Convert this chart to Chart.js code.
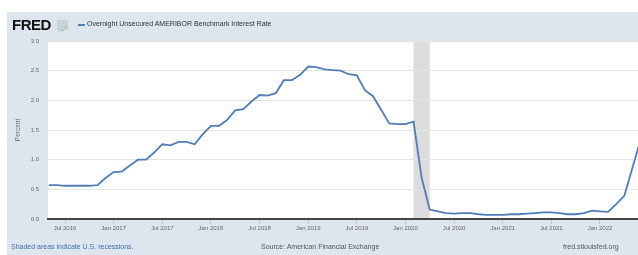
<!DOCTYPE html>
<html>
<head>
<meta charset="utf-8">
<script src="https://cdn.jsdelivr.net/npm/chart.js@4"></script>
<style>
  html, body { margin: 0; padding: 0; background: #fff; }
  body { width: 638px; height: 255px; position: relative; overflow: hidden; font-family: Arial, "Liberation Sans", sans-serif; }
  .panel { position: absolute; left: 7px; top: 12px; width: 631px; height: 243px; background: #dde6ee; }
  #wrap { position: absolute; left: 0; top: 0; width: 638px; height: 255px; }
  .logo { position: absolute; left: 12px; top: 16px; font-size: 15px; font-weight: bold; color: #111; letter-spacing: -0.5px; }
  .icon { position: absolute; left: 57px; top: 20px; width: 11px; height: 10px; background: #c8d2da; }
  .leg { position: absolute; left: 78px; top: 24px; width: 7px; height: 1.5px; background: #4f7db8; }
  .title { position: absolute; left: 87px; top: 20px; font-size: 7px; color: #333; }
  .foot { position: absolute; top: 243px; font-size: 7px; color: #555; }
</style>
</head>
<body>
<div class="panel"></div>
<div id="wrap"><canvas id="rateChart" width="638" height="255"></canvas></div>
<div class="logo">FRED</div>
<div class="icon"><svg width="11" height="10"><polyline points="1,8 4,6 6,7 10,2" fill="none" stroke="#9fc39a" stroke-width="1"/></svg></div>
<div class="leg"></div>
<div class="title">Overnight Unsecured AMERIBOR Benchmark Interest Rate</div>
<div class="foot" style="left:11px;color:#3f6fae">Shaded areas indicate U.S. recessions.</div>
<div class="foot" style="left:261px">Source: American Financial Exchange</div>
<div class="foot" style="left:563px">fred.stlouisfed.org</div>
<script>
// ── DATA ──
const months = [
  '2016-05', '2016-06', '2016-07', '2016-08', '2016-09', '2016-10', '2016-11', '2016-12',
  '2017-01', '2017-02', '2017-03', '2017-04', '2017-05', '2017-06', '2017-07', '2017-08', '2017-09', '2017-10', '2017-11', '2017-12',
  '2018-01', '2018-02', '2018-03', '2018-04', '2018-05', '2018-06', '2018-07', '2018-08', '2018-09', '2018-10', '2018-11', '2018-12',
  '2019-01', '2019-02', '2019-03', '2019-04', '2019-05', '2019-06', '2019-07', '2019-08', '2019-09', '2019-10', '2019-11', '2019-12',
  '2020-01', '2020-02', '2020-03', '2020-04', '2020-05', '2020-06', '2020-07', '2020-08', '2020-09', '2020-10', '2020-11', '2020-12',
  '2021-01', '2021-02', '2021-03', '2021-04', '2021-05', '2021-06', '2021-07', '2021-08', '2021-09', '2021-10', '2021-11', '2021-12',
  '2022-01', '2022-02', '2022-03', '2022-04', '2022-05', '2022-06',
];
const rates = [
  0.57, 0.57, 0.56, 0.56, 0.56, 0.56, 0.57, 0.69,
  0.79, 0.80, 0.90, 1.00, 1.00, 1.12, 1.26, 1.24, 1.30, 1.30, 1.26, 1.43,
  1.57, 1.57, 1.67, 1.83, 1.85, 1.98, 2.09, 2.08, 2.12, 2.34, 2.34, 2.43,
  2.57, 2.56, 2.52, 2.51, 2.50, 2.44, 2.42, 2.17, 2.07, 1.84, 1.61, 1.60,
  1.60, 1.64, 0.69, 0.16, 0.13, 0.10, 0.09, 0.10, 0.10, 0.08, 0.07, 0.07,
  0.07, 0.08, 0.08, 0.09, 0.10, 0.11, 0.11, 0.10, 0.08, 0.08, 0.10, 0.14,
  0.13, 0.12, 0.25, 0.39, 0.86, 1.33,
];
const tickMonths = ['2016-07', '2017-01', '2017-07', '2018-01', '2018-07', '2019-01', '2019-07', '2020-01', '2020-07', '2021-01', '2021-07', '2022-01'];
const tickLabels = ['Jul 2016', 'Jan 2017', 'Jul 2017', 'Jan 2018', 'Jul 2018', 'Jan 2019', 'Jul 2019', 'Jan 2020', 'Jul 2020', 'Jan 2021', 'Jul 2021', 'Jan 2022'];
const recession = ['2020-02', '2020-04'];

// months since Jan 2016
const idx = s => (Number(s.slice(0, 4)) - 2016) * 12 + Number(s.slice(5, 7)) - 1;

window.addEventListener('DOMContentLoaded', () => {
  const points = months.map((m, i) => ({ x: idx(m), y: rates[i] }));
  const tickPos = tickMonths.map(idx);

  // white plot area + recession band
  const plotBg = {
    id: 'plotBg',
    beforeDraw(chart) {
      const { ctx, chartArea: a, scales: { x } } = chart;
      ctx.save();
      ctx.fillStyle = '#fff';
      ctx.fillRect(a.left, a.top, a.right - a.left, a.bottom - a.top);
      const x0 = x.getPixelForValue(idx(recession[0]));
      const x1 = x.getPixelForValue(idx(recession[1]));
      ctx.fillStyle = '#dcdcdc';
      ctx.fillRect(x0, a.top, x1 - x0, a.bottom - a.top);
      ctx.restore();
    },
  };

  new Chart(document.getElementById('rateChart').getContext('2d'), {
    type: 'line',
    data: {
      datasets: [{
        label: 'AMERIBOR',
        data: points,
        borderColor: '#4f7db8',
        borderWidth: 1.8,
        pointRadius: 0,
        tension: 0,
        fill: false,
      }],
    },
    options: {
      responsive: false,
      animation: false,
      layout: { padding: { top: 41, right: 0, left: 0, bottom: 0 } },
      plugins: { legend: { display: false }, tooltip: { enabled: false } },
      scales: {
        x: {
          type: 'linear',
          min: 3.9,
          max: 76.69,
          afterFit: s => { s.height = 36; },
          afterBuildTicks: s => { s.ticks = tickPos.map(v => ({ value: v })); },
          ticks: {
            autoSkip: false,
            maxRotation: 0,
            padding: 1,
            color: '#666',
            font: { size: 6, family: 'Arial' },
            callback: v => tickLabels[tickPos.indexOf(v)],
          },
          grid: { drawOnChartArea: false, drawTicks: true, tickLength: 5, color: '#c8c8c8' },
          border: { display: true, color: '#444', width: 2 },
        },
        y: {
          min: 0,
          max: 3,
          afterFit: s => { s.width = 48; },
          ticks: {
            stepSize: 0.5,
            padding: 9,
            color: '#666',
            font: { size: 6, family: 'Arial' },
            callback: v => v.toFixed(1),
          },
          title: { display: true, text: 'Percent', color: '#666', font: { size: 6.5, family: 'Arial' }, padding: { top: 14.5, bottom: 0 } },
          grid: { color: '#e4e4e4', drawTicks: false },
          border: { display: false },
        },
      },
    },
    plugins: [plotBg],
  });
});
</script>
</body>
</html>
